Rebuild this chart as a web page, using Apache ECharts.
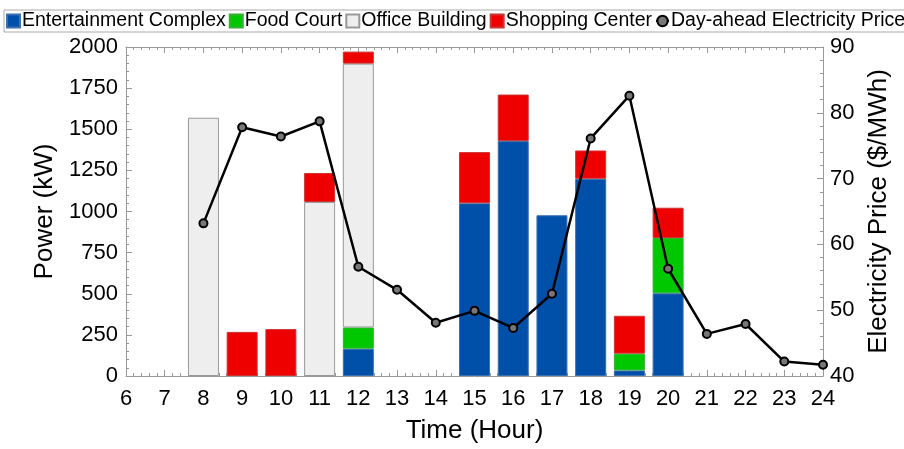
<!DOCTYPE html>
<html><head><meta charset="utf-8">
<script src="https://cdn.jsdelivr.net/npm/echarts@6/dist/echarts.min.js"></script>
<style>html,body{margin:0;padding:0;background:#fff;overflow:hidden}#c{width:904px;height:449px}</style>
</head><body><div id="c"></div>
<script>
const hourCategories = ['6','7','8','9','10','11','12','13','14','15','16','17','18','19','20','21','22','23','24'];
const barHours = [8, 9, 10, 11, 12, 13, 14, 15, 16, 17, 18, 19, 20];
const entertainment = [null, null, null, null, 166, null, null, 1050, 1428, 977, 1199, 34, 503];
const foodCourt     = [null, null, null, null, 129, null, null, null, null, null, null, 102, 336];
const office        = [1570, null, null, 1058, 1604, null, null, null, null, null, null, null, null];
const shopping      = [null, 268, 285, 176, 73, null, null, 311, 283, null, 172, 230, 184];
const priceHours = [8, 9, 10, 11, 12, 13, 14, 15, 16, 17, 18, 19, 20, 21, 22, 23, 24];
const price = [63.2, 77.8, 76.4, 78.7, 56.6, 53.1, 48.1, 49.9, 47.3, 52.5, 76.1, 82.6, 56.3, 46.4, 47.9, 42.2, 41.7];

const pair = (xs, ys) => xs.map((x, i) => [x, ys[i]]);
const toCat = (vals) => hourCategories.map(h => {
  const i = barHours.indexOf(Number(h));
  return i >= 0 ? vals[i] : null;
});
const FONT = 'Liberation Sans';
const axisGray = '#999';
const tickStyle = { show: true, inside: true, length: 6, lineStyle: { color: axisGray, width: 1 } };
const minorStyle = { show: true, splitNumber: 5, length: 3, lineStyle: { color: axisGray, width: 1 } };
const labelStyle = { fontFamily: FONT, fontSize: 22, color: '#000' };
const titleStyle = { fontFamily: FONT, fontSize: 26, color: '#000' };

const barSeries = (name, vals, color, border) => ({
  name, type: 'bar', stack: 'p', xAxisIndex: 2, yAxisIndex: 0,
  barWidth: 31,
  data: toCat(vals),
  itemStyle: { color, borderColor: border, borderWidth: 1 }
});

const chart = echarts.init(document.getElementById('c'), null, { renderer: 'canvas' });
chart.setOption({
  animation: false,
  textStyle: { fontFamily: FONT },
  legend: {
    left: 4, top: 10, width: 1400,
    padding: [1, 4, 1, 2],
    borderColor: '#aaa', borderWidth: 1,
    itemGap: 3, itemWidth: 13, itemHeight: 13,
    textStyle: { fontFamily: FONT, fontSize: 19.5, color: '#000', padding: [0, 0, 0, -3] },
    data: [
      { name: 'Entertainment Complex', icon: 'rect' },
      { name: 'Food Court', icon: 'rect' },
      { name: 'Office Building', icon: 'rect' },
      { name: 'Shopping Center', icon: 'rect' },
      { name: 'Day-ahead Electricity Price' }
    ]
  },
  grid: { left: 126, right: 81, top: 47, bottom: 65 },
  xAxis: [
    {
      type: 'value', min: 6, max: 24, interval: 1, position: 'bottom',
      name: 'Time (Hour)', nameLocation: 'middle', nameGap: 42,
      nameTextStyle: titleStyle,
      axisLine: { show: true, lineStyle: { color: axisGray } },
      axisTick: tickStyle, minorTick: minorStyle,
      axisLabel: Object.assign({ margin: 12 }, labelStyle),
      splitLine: { show: false }
    },
    {
      type: 'value', min: 6, max: 24, interval: 1, position: 'top',
      axisLine: { show: true, lineStyle: { color: axisGray } },
      axisTick: tickStyle, minorTick: minorStyle,
      axisLabel: { show: false }, splitLine: { show: false }
    },
    {
      type: 'category', data: hourCategories, boundaryGap: false, position: 'bottom',
      show: false
    }
  ],
  yAxis: [
    {
      type: 'value', min: 0, max: 2000, interval: 250, position: 'left',
      name: 'Power (kW)', nameLocation: 'middle', nameGap: 62, nameRotate: 90,
      nameTextStyle: titleStyle,
      axisLine: { show: true, lineStyle: { color: axisGray } },
      axisTick: tickStyle, minorTick: minorStyle,
      axisLabel: Object.assign({ margin: 8, formatter: v => String(v) }, labelStyle),
      splitLine: { show: false }
    },
    {
      type: 'value', min: 40, max: 90, interval: 10, position: 'right',
      name: 'Electricity Price ($/MWh)', nameLocation: 'middle', nameGap: 42, nameRotate: 90,
      nameTextStyle: titleStyle,
      axisLine: { show: true, lineStyle: { color: axisGray } },
      axisTick: tickStyle, minorTick: minorStyle,
      axisLabel: Object.assign({ margin: 7 }, labelStyle),
      splitLine: { show: false }
    }
  ],
  series: [
    barSeries('Entertainment Complex', entertainment, '#0050AA', '#3a6fb0'),
    barSeries('Food Court', foodCourt, '#00C800', '#33b033'),
    barSeries('Office Building', office, '#EEEEEE', '#999999'),
    barSeries('Shopping Center', shopping, '#EE0000', '#cc3333'),
    {
      name: 'Day-ahead Electricity Price', type: 'line', xAxisIndex: 0, yAxisIndex: 1,
      data: pair(priceHours, price),
      symbol: 'circle', symbolSize: 8, showSymbol: true,
      lineStyle: { color: '#000', width: 2.5 },
      itemStyle: { color: '#777', borderColor: '#000', borderWidth: 2 },
      z: 5
    }
  ]
});
</script>
</body></html>
